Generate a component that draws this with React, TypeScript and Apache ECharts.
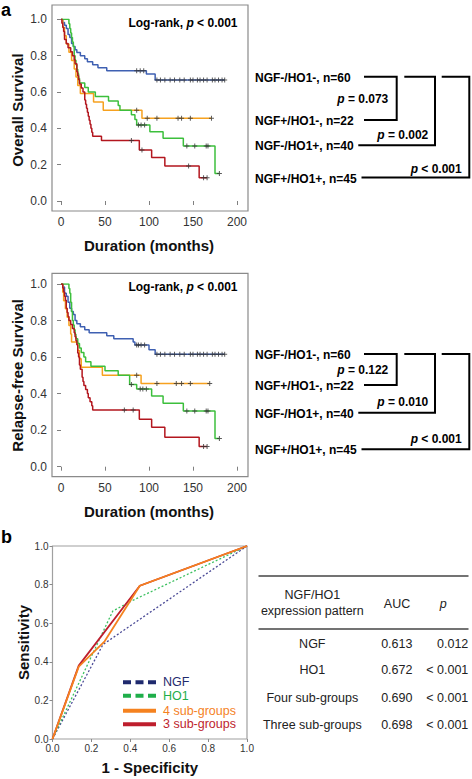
import React, { useEffect, useRef } from "react";
import * as echarts from "echarts";

const FONT = "'Liberation Sans', Arial, Helvetica, sans-serif";

// ---- Panel a (top): Overall survival, Kaplan-Meier steps ----
const osBlueT = [0, 2, 4, 6, 8, 10, 12, 14, 16, 18, 22, 27, 30, 36, 42, 52, 97, 107];
const osBlueS = [1, 0.983, 0.967, 0.95, 0.917, 0.9, 0.867, 0.85, 0.833, 0.817, 0.8, 0.783, 0.767, 0.75, 0.733, 0.717, 0.699, 0.666];
const osBlueCens = [86, 90, 94, 109, 113, 118, 124, 129, 135, 140, 147, 150, 155, 158, 162, 166, 172, 175, 179, 183, 186];

const osOrangeT = [0, 2, 4, 6, 9, 12, 15, 17, 19, 22, 37, 48, 92];
const osOrangeS = [1, 0.955, 0.909, 0.864, 0.818, 0.773, 0.727, 0.682, 0.636, 0.591, 0.545, 0.5, 0.455];
const osOrangeCens = [86, 98, 109, 133, 137, 147, 171];

const osGreenT = [0, 9, 10, 11, 12, 13, 14, 15, 16, 17, 18, 19, 20, 21, 27, 31, 39, 54, 65, 67, 80, 84, 86, 101, 116, 139, 175];
const osGreenS = [1, 0.975, 0.95, 0.925, 0.9, 0.875, 0.85, 0.8, 0.775, 0.75, 0.725, 0.7, 0.675, 0.65, 0.625, 0.6, 0.575, 0.55, 0.525, 0.5, 0.475, 0.448, 0.418, 0.381, 0.345, 0.303, 0.152];
const osGreenCens = [88, 91, 95, 143, 152, 165, 167, 180];

const osRedT = [0, 1, 2, 3, 4, 6, 8, 11, 13, 15, 16, 18, 19, 20, 21, 23, 25, 27, 28, 29, 30, 31, 32, 33, 34, 35, 36, 46, 89, 103, 118, 157];
const osRedS = [1, 0.978, 0.956, 0.933, 0.889, 0.867, 0.844, 0.822, 0.8, 0.778, 0.756, 0.711, 0.689, 0.667, 0.644, 0.622, 0.6, 0.556, 0.533, 0.511, 0.489, 0.467, 0.444, 0.422, 0.4, 0.378, 0.356, 0.333, 0.28, 0.24, 0.193, 0.128];
const osRedCens = [80, 92, 145, 162, 166];

// ---- Panel a (bottom): Relapse-free survival ----
const rfsBlueT = [0, 2, 4, 6, 8, 10, 12, 14, 16, 18, 22, 27, 32, 52, 60, 82, 84, 100, 107];
const rfsBlueS = [1, 0.983, 0.95, 0.933, 0.9, 0.867, 0.85, 0.833, 0.8, 0.783, 0.766, 0.75, 0.733, 0.717, 0.7, 0.683, 0.666, 0.64, 0.615];
const rfsBlueCens = [86, 88, 91, 95, 109, 113, 118, 124, 129, 135, 140, 147, 150, 155, 158, 162, 166, 172, 175, 179, 183, 186];

const rfsOrangeT = [0, 2, 3, 5, 7, 9, 11, 12, 19, 21, 23, 47, 91];
const rfsOrangeS = [1, 0.955, 0.909, 0.864, 0.818, 0.773, 0.727, 0.682, 0.636, 0.591, 0.545, 0.5, 0.455];
const rfsOrangeCens = [86, 109, 131, 137, 147, 169];

const rfsGreenT = [0, 9, 10, 11, 12, 13, 14, 15, 16, 17, 19, 21, 23, 26, 28, 34, 50, 65, 78, 86, 103, 116, 139, 175];
const rfsGreenS = [1, 0.975, 0.95, 0.9, 0.85, 0.8, 0.775, 0.75, 0.725, 0.7, 0.675, 0.65, 0.625, 0.6, 0.575, 0.55, 0.525, 0.5, 0.45, 0.425, 0.387, 0.347, 0.305, 0.155];
const rfsGreenCens = [80, 90, 93, 97, 143, 152, 165, 167, 180];

const rfsRedT = [0, 2, 3, 4, 5, 6, 7, 8, 9, 11, 13, 15, 16, 17, 18, 19, 20, 21, 22, 24, 25, 26, 28, 30, 31, 33, 35, 36, 89, 103, 118, 157];
const rfsRedS = [1, 0.978, 0.956, 0.933, 0.911, 0.867, 0.844, 0.822, 0.8, 0.778, 0.756, 0.733, 0.711, 0.689, 0.667, 0.622, 0.6, 0.556, 0.533, 0.489, 0.467, 0.444, 0.422, 0.4, 0.378, 0.356, 0.333, 0.311, 0.26, 0.216, 0.161, 0.11];
const rfsRedCens = [72, 82, 162, 166];

// ---- Groups / p-values ----
const groupLabels = ["NGF-/HO1-, n=60", "NGF+/HO1-, n=22", "NGF-/HO1+, n=40", "NGF+/HO1+, n=45"];
const osPairP = ["= 0.073", "= 0.002", "< 0.001"];
const rfsPairP = ["= 0.122", "= 0.010", "< 0.001"];
const logRankText = "< 0.001";

// ---- Panel b: ROC curves ----
const rocNgfX = [0, 0.26, 1];
const rocNgfY = [0, 0.49, 1];
const rocHo1X = [0, 0.31, 0.406, 1];
const rocHo1Y = [0, 0.663, 0.715, 1];
const rocFourX = [0, 0.135, 0.268, 0.449, 1];
const rocFourY = [0, 0.375, 0.506, 0.794, 1];
const rocThreeX = [0, 0.135, 0.449, 1];
const rocThreeY = [0, 0.38, 0.794, 1];
const rocLegend = ["NGF", "HO1", "4 sub-groups", "3 sub-groups"];

// ---- Table ----
const tableRows = ["NGF", "HO1", "Four sub-groups", "Three sub-groups"];
const tableAuc = ["0.613", "0.672", "0.690", "0.698"];
const tableP = ["0.012", "< 0.001", "< 0.001", "< 0.001"];

const C_BLUE = "#3f60b2";
const C_ORANGE = "#f6a11f";
const C_GREEN = "#3cbf3c";
const C_RED = "#b3161e";

const R_NAVY = "#1f2a6e";
const R_GREEN = "#1fae4a";
const R_ORANGE = "#f5821f";
const R_RED = "#be1e2d";

const CROSS = "path://M4,0H6V4H10V6H6V10H4V6H0V4H4Z";

function stepData(t: number[], s: number[], cens: number[]) {
  const d = t.map((x, i) => [x, s[i]]);
  const end = Math.max(t[t.length - 1], ...cens);
  if (end > t[t.length - 1]) d.push([end, s[s.length - 1]]);
  return d;
}
function survAt(t: number[], s: number[], x: number) {
  let v = s[0];
  for (let i = 0; i < t.length; i++) if (t[i] <= x) v = s[i];
  return v;
}

function kmSeries(idx: number, t: number[], s: number[], cens: number[], color: string) {
  return [
    {
      type: "line",
      xAxisIndex: idx,
      yAxisIndex: idx,
      step: "end",
      data: stepData(t, s, cens),
      symbol: "none",
      silent: true,
      lineStyle: { color, width: 1.5 },
      z: 2,
    },
    {
      type: "scatter",
      xAxisIndex: idx,
      yAxisIndex: idx,
      data: cens.map((c) => [c, survAt(t, s, c)]),
      symbol: CROSS,
      symbolSize: 5,
      silent: true,
      itemStyle: { color: "#333" },
      z: 3,
    },
  ];
}

function rocSeries(xs: number[], ys: number[], color: string, width: number, dashed: boolean, name: string) {
  return {
    type: "line",
    name,
    xAxisIndex: 2,
    yAxisIndex: 2,
    data: xs.map((x, i) => [x, ys[i]]),
    symbol: "none",
    silent: true,
    lineStyle: { color, width, type: dashed ? [2, 2] : "solid" },
  };
}

const kmX = (gridIndex: number) => ({
  type: "value",
  gridIndex,
  min: 0,
  max: 200,
  interval: 50,
  offset: 10,
  name: "Duration (months)",
  nameLocation: "middle",
  nameGap: 27,
  nameTextStyle: { fontFamily: FONT, fontWeight: "bold", fontSize: 15, color: "#111" },
  axisLine: { show: false },
  axisTick: { show: true, length: 4, lineStyle: { color: "#808080" } },
  axisLabel: { margin: 5, fontFamily: FONT, fontSize: 12, color: "#333" },
  splitLine: { show: false },
});
const kmY = (gridIndex: number, name: string) => ({
  type: "value",
  gridIndex,
  min: 0,
  max: 1,
  interval: 0.2,
  offset: 9,
  name,
  nameLocation: "middle",
  nameGap: 27,
  nameTextStyle: { fontFamily: FONT, fontWeight: "bold", fontSize: 15, color: "#111" },
  axisLine: { show: false },
  axisTick: { show: true, length: 4, lineStyle: { color: "#808080" } },
  axisLabel: { margin: 5, fontFamily: FONT, fontSize: 12, color: "#333", formatter: (v: number) => v.toFixed(1) },
  splitLine: { show: false },
});

function txt(x: number, y: number, text: string, o: any = {}) {
  return {
    type: "text",
    x,
    y,
    silent: true,
    style: {
      text,
      fontFamily: FONT,
      fontSize: o.size || 12,
      fontWeight: o.weight || "normal",
      fontStyle: o.italic ? "italic" : "normal",
      fill: o.color || "#000",
      align: o.align || "left",
      verticalAlign: "middle",
      textAlign: o.align || "left",
      textVerticalAlign: "middle",
      rich: o.rich,
    },
  };
}

const richBI = {
  b: { fontFamily: FONT, fontSize: 12, fontWeight: "bold", fill: "#000" },
  i: { fontFamily: FONT, fontSize: 12, fontWeight: "bold", fontStyle: "italic", fill: "#000" },
};

function bracketGraphics(yTop: number, ys: number[], pY: number[], pv: string[]) {
  const g: any[] = [];
  groupLabels.forEach((l, i) => g.push(txt(255, ys[i] + 1, l, { size: 12, weight: "bold" })));
  const line = (pts: number[][]) => ({
    type: "polyline",
    silent: true,
    shape: { points: pts },
    style: { stroke: "#000", lineWidth: 2, fill: "none" },
  });
  g.push(line([[364, yTop], [396.7, yTop], [396.7, ys[1]], [364, ys[1]]]));
  g.push(line([[404.3, yTop], [435, yTop], [435, ys[2]], [358.3, ys[2]]]));
  g.push(line([[441.7, yTop], [469.3, yTop], [469.3, ys[3]], [361.5, ys[3]]]));
  const px = [388.3, 428.3, 461.7];
  pv.forEach((p, i) =>
    g.push(txt(px[i], pY[i], `{i|p}{b| ${p}}`, { align: "right", rich: richBI }))
  );
  return g;
}

function frame(x: number, y: number, w: number, h: number) {
  return {
    type: "rect",
    silent: true,
    shape: { x, y, width: w, height: h },
    style: { fill: "none", stroke: "#8a8a8a", lineWidth: 1.2 },
    z: 10,
  };
}

function buildOption() {
  const graphic: any[] = [];
  graphic.push(txt(1, 10, "a", { size: 18, weight: "bold" }));
  graphic.push(txt(1, 537, "b", { size: 18, weight: "bold" }));
  graphic.push(frame(52, 5, 196, 206));
  graphic.push(frame(52, 273.3, 196, 203.4));
  graphic.push(txt(237.5, 22.5, `{b|Log-rank, }{i|p}{b| ${logRankText}}`, { align: "right", rich: richBI }));
  graphic.push(txt(237.5, 287, `{b|Log-rank, }{i|p}{b| ${logRankText}}`, { align: "right", rich: richBI }));

  graphic.push(...bracketGraphics(76.7, [77, 120, 145.3, 177.5], [98.5, 135.3, 168.5], osPairP));
  graphic.push(...bracketGraphics(354, [354, 385, 412.7, 449.3], [370.2, 401.7, 438.5], rfsPairP));

  // ROC legend
  const legY = [682.3, 695.7, 710.7, 724.3];
  const legC = [R_NAVY, R_GREEN, R_ORANGE, R_RED];
  legY.forEach((y, i) => {
    graphic.push({
      type: "line",
      silent: true,
      shape: { x1: 123, y1: y, x2: 156, y2: y },
      style: { stroke: legC[i], lineWidth: 4, lineDash: i < 2 ? [8, 4.5] : null },
    });
    graphic.push(txt(163, y, rocLegend[i], { size: 12.5, color: legC[i] }));
  });

  // Table
  const rule = (y: number) => ({
    type: "line",
    silent: true,
    shape: { x1: 258.5, y1: y, x2: 468.5, y2: y },
    style: { stroke: "#444", lineWidth: 1.3 },
  });
  graphic.push(rule(576));
  graphic.push(rule(629));
  const tc = "#222";
  graphic.push(txt(312.3, 595, "NGF/HO1", { size: 12.5, align: "center", color: tc }));
  graphic.push(txt(312.3, 610.5, "expression pattern", { size: 12.5, align: "center", color: tc }));
  graphic.push(txt(397, 603.5, "AUC", { size: 12.5, align: "center", color: tc }));
  graphic.push(txt(443.3, 603.5, "p", { size: 12.5, align: "center", color: tc, italic: true }));
  const rowY = [643.5, 670.2, 697.5, 725];
  tableRows.forEach((r, i) => {
    graphic.push(txt(312.3, rowY[i], r, { size: 12.5, align: "center", color: tc }));
    graphic.push(txt(396.8, rowY[i], tableAuc[i], { size: 12.5, align: "center", color: tc }));
    graphic.push(txt(468.3, rowY[i], tableP[i], { size: 12.5, align: "right", color: tc }));
  });

  return {
    animation: false,
    backgroundColor: "#fff",
    grid: [
      { left: 61, top: 19.3, width: 176, height: 181.7 },
      { left: 61, top: 284, width: 176, height: 182.7 },
      { left: 52.5, top: 546, width: 194.5, height: 193, show: true, borderColor: "#a0a0a0", borderWidth: 1.2 },
    ],
    xAxis: [
      kmX(0),
      kmX(1),
      {
        type: "value",
        gridIndex: 2,
        min: 0,
        max: 1,
        interval: 0.2,
        name: "1 - Specificity",
        nameLocation: "middle",
        nameGap: 21,
        nameTextStyle: { fontFamily: FONT, fontWeight: "bold", fontSize: 15, color: "#111" },
        axisLine: { show: false },
        axisTick: { show: true, length: 3, lineStyle: { color: "#888" } },
        axisLabel: { margin: 4, fontFamily: FONT, fontSize: 10, color: "#333", formatter: (v: number) => v.toFixed(1) },
        splitLine: { show: false },
      },
    ],
    yAxis: [
      kmY(0, "Overall Survival"),
      kmY(1, "Relapse-free Survival"),
      {
        type: "value",
        gridIndex: 2,
        min: 0,
        max: 1,
        interval: 0.2,
        name: "Sensitivity",
        nameLocation: "middle",
        nameGap: 22,
        nameTextStyle: { fontFamily: FONT, fontWeight: "bold", fontSize: 15, color: "#111" },
        axisLine: { show: false },
        axisTick: { show: true, length: 3, lineStyle: { color: "#888" } },
        axisLabel: { margin: 4, fontFamily: FONT, fontSize: 10, color: "#333", formatter: (v: number) => v.toFixed(1) },
        splitLine: { show: false },
      },
    ],
    series: [
      ...kmSeries(0, osBlueT, osBlueS, osBlueCens, C_BLUE),
      ...kmSeries(0, osOrangeT, osOrangeS, osOrangeCens, C_ORANGE),
      ...kmSeries(0, osGreenT, osGreenS, osGreenCens, C_GREEN),
      ...kmSeries(0, osRedT, osRedS, osRedCens, C_RED),
      ...kmSeries(1, rfsBlueT, rfsBlueS, rfsBlueCens, C_BLUE),
      ...kmSeries(1, rfsOrangeT, rfsOrangeS, rfsOrangeCens, C_ORANGE),
      ...kmSeries(1, rfsGreenT, rfsGreenS, rfsGreenCens, C_GREEN),
      ...kmSeries(1, rfsRedT, rfsRedS, rfsRedCens, C_RED),
      rocSeries(rocNgfX, rocNgfY, "#4a4a96", 1.3, true, "NGF"),
      rocSeries(rocHo1X, rocHo1Y, "#3cc060", 1.3, true, "HO1"),
      rocSeries(rocThreeX, rocThreeY, R_RED, 1.8, false, "3 sub-groups"),
      rocSeries(rocFourX, rocFourY, R_ORANGE, 1.8, false, "4 sub-groups"),
    ],
    graphic,
  };
}

export default function App() {
  const ref = useRef<HTMLDivElement>(null);
  useEffect(() => {
    if (!ref.current) return;
    const chart = echarts.init(ref.current, null, { renderer: "svg" });
    chart.setOption(buildOption() as any);
    return () => chart.dispose();
  }, []);
  return (
    <div
      ref={ref}
      style={{ position: "absolute", left: 0, top: 0, width: 472, height: 779, background: "#fff" }}
    />
  );
}
